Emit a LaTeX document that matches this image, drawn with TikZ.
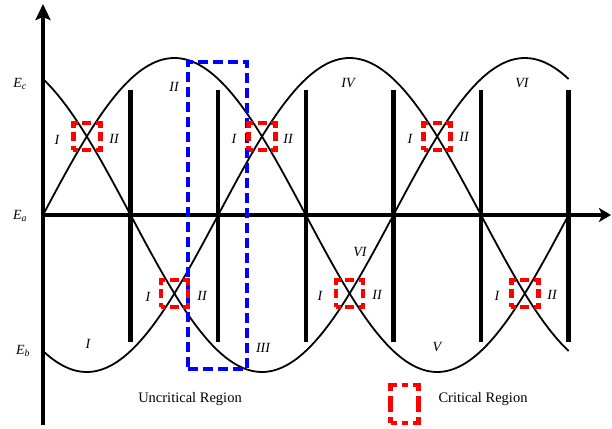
\documentclass[tikz,border=0pt]{standalone}
\usepackage{fontspec}
\setmainfont{Liberation Serif}
\usepackage{tikz}
\usetikzlibrary{positioning,arrows.meta}
\definecolor{critred}{HTML}{FF0000}
\definecolor{uncritblue}{HTML}{0000FF}

\tikzset{
  axis/.style={line width=4.5pt},
  bar/.style={line width=4.5pt},
  wave/.style={line width=1.8pt,smooth,samples=150},
  crit/.style={draw=critred,line width=4.5pt,inner sep=0pt,minimum size=27pt,
               dash pattern=on 9pt off 4.5pt,dash phase=4.5pt},
  critkey/.style={draw=critred,line width=4.5pt,inner sep=0pt,
               minimum width=28pt,minimum height=38pt,
               dash pattern=on 12pt off 5pt on 6pt off 5pt on 12pt off 5pt on 16pt off 5pt,
               dash phase=6pt},
  uncrit/.style={draw=uncritblue,line width=4.5pt,inner sep=0pt,
               dash pattern=on 10pt off 5pt},
  lbl/.style={font=\fontsize{14}{16}\selectfont\itshape,inner sep=0pt},
  txt/.style={font=\fontsize{14.5}{16}\selectfont,inner sep=0pt,anchor=base}
}

\begin{document}
\begin{tikzpicture}[x=1pt,y=-1pt]
  \useasboundingbox (0,0) rectangle (612,428);

  % three phases
  \draw[wave] plot[domain=43:568.6] (\x,{215+157*sin((\x-130.6)/262.8*180)});
  \draw[wave] plot[domain=43:568.6] (\x,{215-157*sin((\x-43)/262.8*180)});
  \draw[wave] plot[domain=43:568.6] (\x,{215-157*sin((\x-218.2)/262.8*180)});

  % sector borders
  \foreach \k in {1,...,6}
    \draw[bar] ({43+87.6*\k},90) -- ({43+87.6*\k},342);

  % axes
  \coordinate (O) at (43,215);
  \coordinate (ybot) at (43,425);
  \coordinate (ytip) at (43,4);
  \coordinate (xtip) at (611,215);
  \draw[axis,-{Stealth[length=16pt,width=15pt,inset=3pt]}] (ybot) -- (ytip);
  \draw[axis,-{Stealth[length=12pt,width=14pt,inset=3pt]}] (O) -- (xtip);

  \node[lbl] (Ec) at (20,84) {E\textsubscript{c}};
  \node[lbl] (Ea) at (20,216) {E\textsubscript{a}};
  \node[lbl] (Eb) at (23,351) {E\textsubscript{b}};

  % regions
  \node[uncrit,minimum width=59pt,minimum height=307pt] (ureg) at (217.5,215.5) {};
  \foreach \cx/\cy [count=\n] in {86.8/136.5,262/136.5,437.2/136.5,
                                  174.4/293.5,349.6/293.5,524.8/293.5}
    \node[crit] (cr\n) at (\cx,\cy) {};

  % sector numbers
  \foreach \t/\px/\py [count=\n] in {I/57/140,II/114/139,II/174/87,I/234/139,
      II/288/139,IV/348/83,I/410/139,II/464/137,VI/522/83,I/148/297,
      II/202/296,I/88/344,III/263/348,VI/360/252,I/320/296,II/377/295,
      V/437/347,I/497/296,II/552/295}
    \node[lbl] (sec\n) at (\px,\py) {\t};

  % legend
  \node[txt] (uctxt) at (190,402) {Uncritical Region};
  \node[critkey] (crkey) at (404.5,404) {};
  \node[txt] (crtxt) at (483,402) {Critical Region};
\end{tikzpicture}
\end{document}
